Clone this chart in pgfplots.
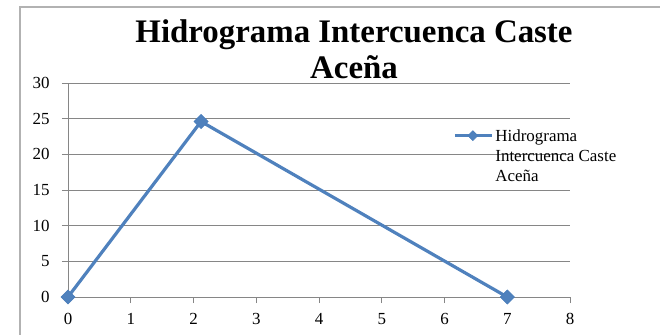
\documentclass[border=0pt]{standalone}
\usepackage{pgfplots}
\pgfplotsset{compat=1.18}
\usepackage{fontspec}
\setmainfont{Liberation Serif}
\definecolor{exblue}{HTML}{4F81BD}
\definecolor{exedge}{HTML}{4A7EBB}
\definecolor{exgrid}{HTML}{868686}
\begin{document}
\begin{tikzpicture}
\path[use as bounding box] (0bp,0bp) rectangle (660bp,335bp);
\draw[color=gray!60, line width=1.2bp] (20bp,0bp) -- (20bp,328bp) -- (660bp,328bp);
\node[font=\fontsize{33}{37}\selectfont\bfseries, align=center, anchor=base] at (354bp,256bp) {Hidrograma Intercuenca Caste\\Aceña};
\begin{axis}[
  at={(68bp,38bp)}, anchor=south west,
  scale only axis, width=502bp, height=214bp,
  xmin=0, xmax=8, ymin=0, ymax=30,
  xtick={0,1,...,8}, ytick={0,5,...,30},
  axis x line*=bottom, axis y line*=left,
  axis line style={color=exgrid, line width=0.8bp, -},
  ymajorgrids, grid style={color=exgrid, line width=0.8bp},
  tick align=outside, major tick length=6bp,
  tick style={color=exgrid, line width=0.8bp},
  /pgf/number format/assume math mode=true,
  ticklabel style={font=\fontsize{17}{20}\selectfont},
  yticklabel style={xshift=-9bp},
  xticklabel style={yshift=-7bp},
  clip=false,
  legend style={at={(axis description cs:0.767,0.8)}, anchor=north west, draw=none, fill=none, inner sep=0pt, font=\fontsize{17}{20}\selectfont},
  legend cell align=left,
  legend image code/.code={\draw[mark repeat=2, mark phase=2, mark size=3.5bp] plot coordinates {(0bp,0bp) (18bp,0bp) (37bp,0bp)};},
]
\addplot[color=exblue, line width=3.2bp, mark=square*, mark size=5bp,
  mark options={rotate=45, fill=exblue, draw=exedge, line width=0.6bp}]
  coordinates {(0,0) (2.12,24.6) (7,0)};
\addlegendentry{\begin{tabular}[t]{@{}l@{}}Hidrograma\\Intercuenca Caste\\Aceña\end{tabular}}
\end{axis}
\end{tikzpicture}
\end{document}
